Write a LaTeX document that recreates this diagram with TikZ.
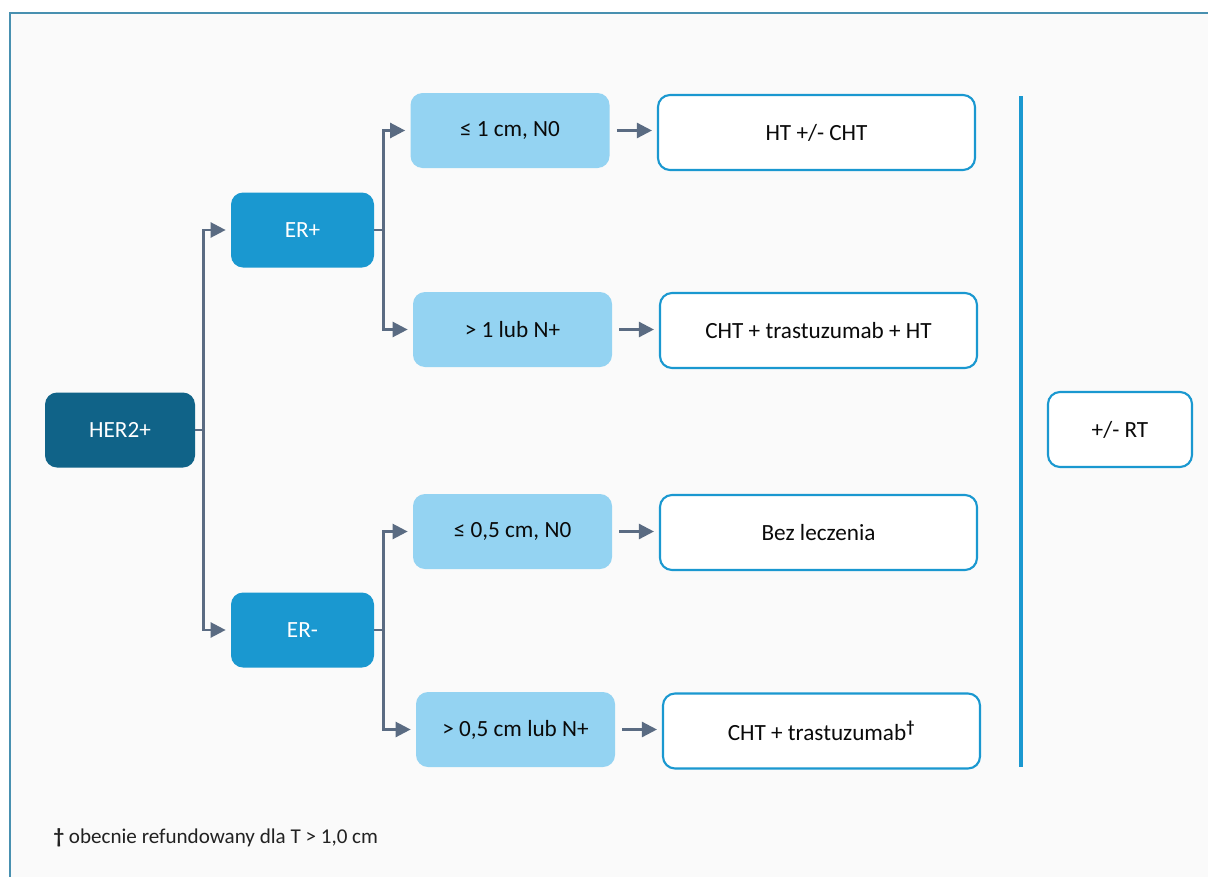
\documentclass[tikz,border=0pt]{standalone}
\usepackage{xcolor,tikz,fontspec}
\usetikzlibrary{arrows.meta,positioning}
\setmainfont{Carlito}
\definecolor{frame}{RGB}{72,144,176}
\definecolor{paper}{RGB}{250,250,250}
\definecolor{deep}{RGB}{16,99,136}
\definecolor{mid}{RGB}{26,152,208}
\definecolor{light}{RGB}{148,211,242}
\definecolor{slate}{RGB}{90,107,130}
\definecolor{ink}{RGB}{10,10,10}
\tikzset{
  arr/.style={-{Triangle[length=3mm,width=3mm]},line width=1.4pt,draw=slate},
  box/.style={rounded corners=2.4mm,minimum height=1.5cm,align=center,font=\fontsize{13.2}{16}\selectfont},
  top/.style={box,fill=deep,text=white,minimum width=3cm},
  er/.style={box,fill=mid,text=white,minimum width=2.86cm},
  size/.style={box,fill=light,text=ink,minimum width=3.98cm},
  ther/.style={box,draw=mid,line width=1.2pt,fill=white,text=ink,minimum width=6.34cm},
  note/.style={font=\fontsize{12}{14}\selectfont,text=ink!90,anchor=west}
}
\begin{document}
\begin{tikzpicture}
  \useasboundingbox (0,0) rectangle (24.16,-17.52);
  \clip (0,0) rectangle (24.16,-17.52);
  \fill[paper] (0.2,-0.26) rectangle (24.5,-18);
  \draw[frame,line width=1.7pt] (0.2,-18) |- (24.5,-0.26);

  % start and receptor status
  \node[top] (her2) at (2.4,-8.6) {HER2+};
  \node[er] (erp) at (6.05,-4.6) {ER+};
  \node[er] (erm) at (6.05,-12.6) {ER-};

  % tumour size and nodes
  \node[size] (s1) at (10.2,-2.61) {≤ 1 cm, N0};
  \node[size] (s2) at (10.25,-6.59) {> 1 lub N+};
  \node[size] (s3) at (10.25,-10.63) {≤ 0,5 cm, N0};
  \node[size] (s4) at (10.31,-14.59) {> 0,5 cm lub N+};

  % treatment
  \node[ther] (t1) at (16.33,-2.65) {HT +/- CHT};
  \node[ther] (t2) at (16.37,-6.61) {CHT + trastuzumab + HT};
  \node[ther] (t3) at (16.37,-10.65) {Bez leczenia};
  \node[ther] (t4) at (16.43,-14.62) {CHT + trastuzumab\textsuperscript{\textbf{†}}};

  \node[box,draw=mid,line width=1.2pt,fill=white,text=ink,minimum width=2.88cm] (rt) at (22.4,-8.59) {+/- RT};
  \coordinate (bara) at (20.42,-1.92);
  \coordinate (barb) at (20.42,-15.34);
  \draw[mid,line width=2.2pt] (bara) -- (barb);

  % branches
  \foreach \a in {erp,erm}{\draw[arr,shorten >=0.1cm] (her2.east) -- ++(0.16,0) |- (\a.west);}
  \foreach \a in {s1,s2}{\draw[arr,shorten >=0.1cm] (erp.east) -- ++(0.18,0) |- (\a.west);}
  \foreach \a in {s3,s4}{\draw[arr,shorten >=0.1cm] (erm.east) -- ++(0.18,0) |- (\a.west);}
  \foreach \a/\b in {s1/t1,s2/t2,s3/t3,s4/t4}{\draw[arr,shorten <=0.14cm,shorten >=0.1cm] (\a.east) -- (\a.east -| \b.west);}

  \node[note] (fn) at (0.95,-16.76) {\textbf{†} obecnie refundowany dla T > 1,0 cm};
\end{tikzpicture}
\end{document}
